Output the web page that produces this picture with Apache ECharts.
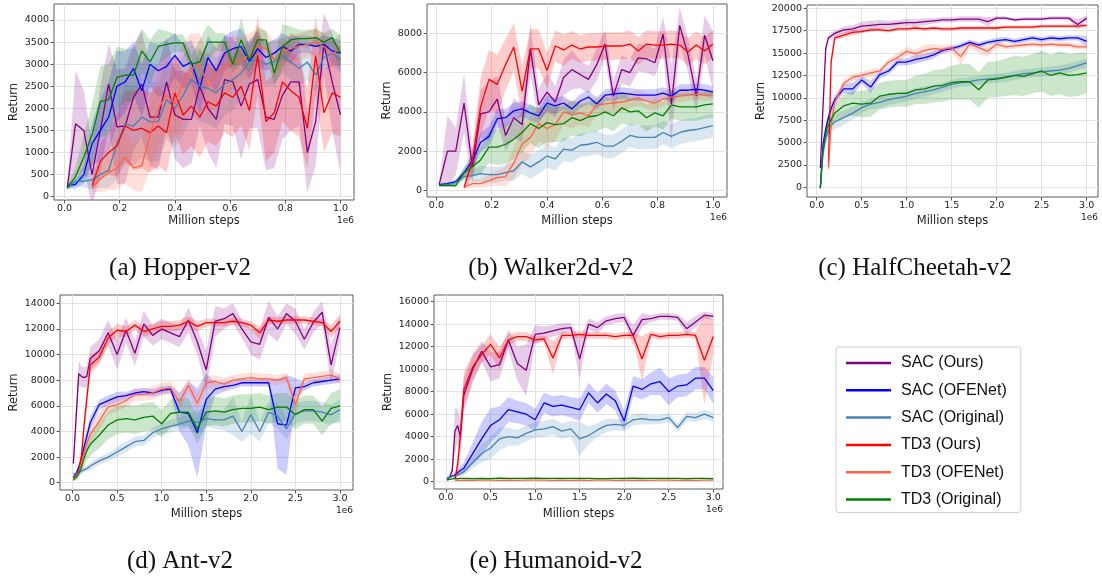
<!DOCTYPE html>
<html><head><meta charset="utf-8">
<script src="https://cdn.jsdelivr.net/npm/echarts@6/dist/echarts.min.js"></script>
<style>html,body{margin:0;padding:0;background:#fff}#c{width:1102px;height:579px}</style>
</head><body><div id="c"></div><script>
// ---------------- data ----------------
const LEGEND = ['SAC (Ours)','SAC (OFENet)','SAC (Original)','TD3 (Ours)','TD3 (OFENet)','TD3 (Original)'];
const COLORS = ['#800080','#0000ff','#4682b4','#ff0000','#ff6347','#008000'];

const X1 = [0.01,0.04,0.07,0.10,0.13,0.16,0.19,0.22,0.25,0.28,0.31,0.34,0.37,0.40,0.43,0.46,0.49,0.52,0.55,0.58,0.61,0.64,0.67,0.70,0.73,0.76,0.79,0.82,0.85,0.88,0.91,0.94,0.97,1.00];
const X3 = [0.01,0.04,0.07,0.10,0.13,0.16,0.2,0.3,0.4,0.5,0.6,0.7,0.8,0.9,1.0,1.1,1.2,1.3,1.4,1.5,1.6,1.7,1.8,1.9,2.0,2.1,2.2,2.3,2.4,2.5,2.6,2.7,2.8,2.9,3.0];

const X1_TICKS = [0,0.2,0.4,0.6,0.8,1.0];
const X3_TICKS = [0,0.5,1.0,1.5,2.0,2.5,3.0];
const HOP_YTICKS = [0,500,1000,1500,2000,2500,3000,3500,4000];
const WAL_YTICKS = [0,2000,4000,6000,8000];
const HC_YTICKS = [0,2500,5000,7500,10000,12500,15000,17500,20000];
const ANT_YTICKS = [0,2000,4000,6000,8000,10000,12000,14000];
const HUM_YTICKS = [0,2000,4000,6000,8000,10000,12000,14000,16000];

const CAPTIONS = ['(a) Hopper-v2','(b) Walker2d-v2','(c) HalfCheetah-v2','(d) Ant-v2','(e) Humanoid-v2'];

// Hopper-v2
const hopSacOurs = [200,1650,1500,500,1500,2550,1580,1600,2250,2550,1800,1800,2600,1850,1750,1750,2500,2000,1750,2650,2600,2050,2550,2650,1800,1750,2300,2600,2600,1000,1700,3450,2600,1850];
const hopSacOfe  = [250,280,500,1200,1500,1800,2500,2600,2900,2400,3000,2850,2950,3200,2950,3050,2450,3150,2850,3250,3350,3400,3050,3350,3150,3250,3400,3300,3450,3450,3400,3450,3300,3250];
const hopSacOrig = [200,350,350,380,500,600,1200,1650,1600,1800,1700,1700,2200,2000,2300,2650,2500,2450,2350,2550,2650,2800,3050,3100,3000,3050,3200,3050,2900,3050,2750,3150,3250,3100];
const hopTd3Ours = [null,null,null,250,800,1000,1150,1600,1500,1550,1450,1600,1450,2350,1850,2050,1800,2150,2050,2350,2250,2500,1950,3200,1700,1900,2600,2400,2250,1550,3200,1900,2350,2250];
const hopTd3Ofe  = [null,null,null,200,400,550,650,900,650,700,1400,2000,2300,2100,2600,2900,3000,2500,2800,2900,3050,3100,3200,3400,3350,3100,3300,3350,3400,3450,3500,3400,3200,3400];
const hopTd3Orig = [200,450,900,1400,2150,2200,2700,2750,2750,3300,3050,3400,3450,3480,3480,3000,3050,3500,3500,3500,3000,3550,3100,3550,3550,2800,3400,3550,3580,3580,3600,3500,3600,3250];
const hopSacOursS = [50,1200,900,700,1000,900,1300,1300,1200,1200,1100,1200,1000,1000,1100,1000,900,1000,1100,1000,1000,1200,1000,1100,1200,1100,1000,1100,1000,900,1000,700,1100,1300];
const hopSacOfeS  = [50,100,200,500,700,800,800,700,600,600,500,600,600,500,500,500,600,500,500,400,400,400,400,400,300,300,300,300,200,200,200,200,300,300];
const hopSacOrigS = [50,100,150,200,300,400,800,900,900,900,900,900,900,900,900,800,800,800,800,700,700,600,500,500,500,500,400,400,400,400,400,300,300,300];
const hopTd3OursS = [0,0,0,100,400,500,700,800,900,900,900,900,900,900,900,900,900,900,900,900,900,900,900,900,900,900,900,900,900,900,900,900,900,900];
const hopTd3OfeS  = [0,0,0,100,300,400,500,600,500,600,800,900,900,900,900,800,700,700,700,600,600,500,500,400,400,400,300,300,300,300,300,300,300,300];
const hopTd3OrigS = [50,200,500,700,800,800,700,600,600,500,500,400,300,200,200,200,500,400,200,200,200,500,300,300,200,300,500,300,200,200,200,200,200,400];

// Walker2d-v2
const walSacOurs = [300,2000,2000,4450,1200,3900,4000,4650,2800,3700,3350,7200,4350,5000,4500,5750,6150,5900,5650,6400,7450,4800,6150,6000,6750,6700,6500,7950,4400,8400,6900,4800,7900,6600];
const walSacOfe  = [300,350,450,900,1500,2450,2750,3650,3700,4050,4150,3950,3800,4450,4300,4450,4150,4550,4750,4400,4850,4900,4950,4900,4850,4850,4850,4950,4800,5100,5100,5150,5100,5000];
const walSacOrig = [250,300,400,700,750,850,800,800,900,1000,1450,1200,1450,1750,1600,2100,2050,2300,2350,2450,2250,2250,2500,2800,2700,2700,2700,2950,2750,2950,3050,3100,3200,3300];
const walTd3Ours = [null,null,null,150,1500,4250,5650,5400,6400,7300,5050,7200,7200,6100,7350,7150,7400,7200,7300,7300,7350,7350,7350,7450,7100,7450,7400,7400,7450,7400,7050,7400,7100,7450];
const walTd3Ofe  = [null,null,null,150,350,350,500,650,700,1400,2350,2700,3400,3150,3350,4000,3850,3950,3800,4350,4400,4450,4500,4600,4700,4550,4450,4650,4750,4800,4850,4900,4850,4850];
const walTd3Orig = [250,250,250,900,1200,1550,2200,2200,2350,2600,2950,3400,3150,3450,3350,3400,3700,3550,3750,3800,4000,3800,4200,4000,4050,3700,3950,3800,4350,4250,4250,4250,4350,4400];
const walSacOursS = [50,1800,1200,1500,800,1200,1500,1200,800,1000,900,1300,800,1000,800,900,1000,700,700,800,700,800,700,700,700,700,700,900,2000,900,900,900,1000,1500];
const walSacOfeS  = [50,50,100,200,400,500,500,500,450,400,400,400,400,400,400,350,350,350,350,300,300,300,300,300,300,300,300,300,300,300,300,300,300,300];
const walSacOrigS = [50,50,100,200,300,400,400,400,400,500,600,600,600,600,600,600,600,600,600,600,600,600,600,600,600,600,600,600,600,600,600,600,600,600];
const walTd3OursS = [0,0,0,100,800,1500,1500,1500,1300,1200,1300,1000,1000,900,800,800,700,700,700,700,700,700,700,700,700,700,700,700,700,700,700,700,700,700];
const walTd3OfeS  = [0,0,0,100,200,200,300,400,500,800,1000,1000,900,900,800,700,700,600,600,500,500,500,500,400,400,400,400,400,300,300,300,300,300,300];
const walTd3OrigS = [50,50,100,300,500,700,800,900,1000,1000,1000,1000,1000,1000,900,900,900,800,800,800,800,800,800,700,700,700,700,700,700,700,700,700,700,700];

// HalfCheetah-v2
const hcSacOurs = [null,2150,9000,15500,16700,16900,17200,17600,17700,18000,18100,18200,18200,18300,18400,18400,18500,18600,18700,18700,18800,18800,18800,18500,18900,18900,18700,18800,18800,18800,18900,18900,18900,18200,18900];
const hcSacOfe  = [null,-100,4800,6500,7800,8800,9800,11000,11000,12000,11200,12600,13000,14000,14000,14300,14500,14800,15300,15500,15800,16200,15900,16200,16400,16500,16300,16500,16700,16500,16700,16600,16700,16700,16300];
const hcSacOrig = [null,-100,3800,5500,6300,6900,7300,7800,8300,8900,9300,9500,9800,10000,10200,10500,10700,10900,11200,11500,11700,11800,12000,12100,12200,12300,12500,12700,12800,12900,13000,13100,13300,13600,13900];
const hcTd3Ours = [null,null,null,null,2500,14000,16700,17000,17300,17400,17600,17600,17500,17700,17700,17800,17700,17800,17700,17700,17800,17800,17800,17800,17800,17900,17900,17900,17900,18000,18000,18000,18000,18000,18100];
const hcTd3Ofe  = [null,null,null,null,2100,7000,9500,11600,12300,12500,12800,13000,14000,14500,15200,14900,15300,15500,15400,15600,14600,16000,15600,15200,16000,15700,15800,15900,16000,15900,16000,15900,15900,15700,15700];
const hcTd3Orig = [null,-100,4200,6000,7000,7600,8300,9100,9400,9300,9400,10200,10400,10500,10500,10900,11000,11300,11400,11700,11800,11800,10900,12000,12100,12300,12500,12400,12700,13000,12500,12800,12500,12600,12800];
const hcSacOursS = [0,300,600,500,300,300,300,400,400,500,500,500,400,400,400,400,400,300,300,300,300,300,300,500,200,200,200,200,200,200,200,200,200,600,300];
const hcSacOfeS  = [0,100,500,500,500,500,500,500,700,400,700,400,400,400,400,500,400,400,300,300,300,300,300,300,300,300,300,300,300,300,300,300,300,300,600];
const hcSacOrigS = [0,100,700,800,800,800,800,800,700,600,600,600,600,600,600,600,600,500,500,500,500,500,500,500,500,500,500,500,500,500,500,500,500,500,500];
const hcTd3OursS = [0,0,0,0,500,600,300,300,300,200,200,200,200,200,200,200,200,200,200,200,200,200,200,200,200,200,200,200,200,200,200,200,200,200,200];
const hcTd3OfeS  = [0,0,0,0,300,500,600,500,400,400,400,400,400,500,500,500,600,500,500,400,900,500,500,600,400,300,300,300,300,300,300,300,300,300,300];
const hcTd3OrigS = [0,100,800,900,1000,1000,1000,1200,1400,1500,1500,1500,1500,1500,1500,1600,1700,1800,1800,1900,2000,2000,2000,2000,2000,2100,2200,2200,2200,2300,2300,2400,2400,2400,2300];

// Ant-v2
const antSacOurs = [1500,5000,8500,8300,8200,8300,9700,10300,11700,10000,11900,10100,12400,11500,12000,11700,11400,12700,11000,8800,12600,12800,13200,12000,11000,10800,12900,12000,13200,12600,11200,12500,13300,9200,12100];
const antSacOfe  = [400,700,1200,1900,2800,3600,4700,6100,6400,6700,6800,7000,7100,7000,7200,7300,5500,5400,3900,6500,7300,7500,7600,7800,7800,7800,7800,4600,4500,7400,7500,7800,7900,8000,8100];
const antSacOrig = [700,700,800,900,1000,1100,1300,1700,2000,2400,2800,3200,3300,3900,4200,4400,4600,4800,4700,5000,4900,4900,5200,4000,5300,4000,5500,5200,4200,5400,5600,5600,5500,5300,5700];
const antTd3Ours = [400,500,900,2000,4500,6500,9200,9800,11300,11900,11800,12300,11800,12000,12200,12200,12300,12600,12200,12500,12500,12500,12600,12500,12300,11700,12700,12600,12700,12700,12700,12600,12500,11800,12600];
const antTd3Ofe  = [300,500,800,1500,2300,3000,3800,4800,5900,6100,6400,6900,6900,7000,7300,7400,6300,7600,6200,7800,7900,7700,8000,8100,8200,8100,8100,8000,8200,6100,8100,8200,8300,8400,8100];
const antTd3Orig = [200,400,700,1200,1900,2500,3000,3700,4500,4900,5000,4900,5100,5200,4600,5400,5500,5500,4200,5500,5600,5500,5700,5800,5800,5900,5700,5900,5900,5300,5700,5700,4800,5800,6000];
const antSacOursS = [100,1000,1000,800,800,800,900,900,1000,1200,1000,1000,1000,800,800,800,800,1000,1000,1500,1200,800,800,700,1000,1200,1300,1000,800,1000,800,800,900,1500,1000];
const antSacOfeS  = [100,200,300,500,600,500,500,400,400,400,300,300,300,300,300,300,1500,2500,3500,2000,500,400,300,300,300,300,300,3500,3900,800,300,300,300,300,300];
const antSacOrigS = [100,100,100,200,200,200,300,300,300,400,400,400,400,400,400,500,500,500,1000,600,700,800,1500,800,1500,800,800,1000,800,800,800,800,800,800,800];
const antTd3OursS = [100,200,400,600,800,800,700,600,500,500,400,400,400,400,400,400,400,400,400,300,300,300,300,300,300,500,300,300,300,300,300,300,300,500,500];
const antTd3OfeS  = [100,200,300,500,600,700,800,700,600,500,500,500,500,500,500,500,700,500,800,500,500,500,400,400,400,400,400,400,400,800,400,400,400,400,400];
const antTd3OrigS = [100,200,300,500,700,800,900,1000,1100,1100,1100,1100,1100,1100,1100,1100,1100,1100,1100,1100,1100,1100,1100,1100,1100,1100,1100,1100,1100,1100,1100,1100,1100,1200,1300];

// Humanoid-v2
const humSacOurs = [200,400,1000,4500,5000,4000,7700,10000,11600,10200,10400,12600,10500,9900,13100,13200,13400,13600,13700,10900,14000,13700,14300,14500,14600,13000,14400,14500,14700,14700,14600,13600,14200,14800,14700];
const humSacOfe  = [300,400,500,600,800,1000,1200,2500,3800,5000,5500,6400,6200,6000,5500,7000,6700,6800,6600,6400,7900,7000,7800,7200,5400,8500,8200,8700,8900,8000,8500,8600,9200,9200,8100];
const humSacOrig = [300,400,500,500,600,700,900,1700,2500,3000,3800,4000,3900,4300,4600,4700,4900,4500,4700,3800,4100,4600,5000,5100,5000,5500,5600,5500,5500,5700,4800,5800,5700,6000,5700];
const humTd3Ours = [null,null,null,200,1500,4000,8200,10200,11300,12200,11000,12600,12900,12900,12600,12700,11000,13000,13000,13100,13000,13000,13000,12900,13000,13000,10900,13100,12900,13000,13000,13100,13000,10800,12900];
const humTd3Ofe  = [null,null,null,120,130,120,130,120,130,140,120,130,120,130,140,130,120,130,120,130,120,140,130,120,130,120,130,120,130,130,120,130,120,130,140];
const humTd3Orig = [150,200,250,300,280,300,300,280,300,280,320,300,290,300,310,300,290,300,300,290,300,280,270,300,300,310,300,290,300,290,300,280,300,290,280];
const humSacOursS = [50,200,500,2000,1500,1500,1500,1200,900,1300,1200,900,1500,2300,800,600,500,500,400,1800,500,500,400,400,400,900,600,300,300,300,300,600,500,300,300];
const humSacOfeS  = [50,100,100,200,300,400,500,1000,1500,1500,1200,1100,1000,1000,1000,900,900,900,900,1000,900,900,900,900,900,900,900,1000,1200,1200,1000,1000,1000,1000,1200];
const humSacOrigS = [50,100,100,100,150,200,300,500,800,1000,1000,800,700,700,700,700,700,700,700,1500,800,600,600,500,500,500,500,400,400,400,400,400,400,400,400];
const humTd3OursS = [0,0,0,100,1000,1500,1500,1200,800,900,1000,500,400,400,300,300,1500,300,300,300,300,300,300,300,300,300,2000,300,300,300,300,300,300,4000,1500];
const humTd3OfeS  = [0,0,0,60,60,60,60,60,60,60,60,60,60,60,60,60,60,60,60,60,60,60,60,60,60,60,60,60,60,60,60,60,60,60,60];
const humTd3OrigS = [20,30,40,60,60,60,60,60,60,60,60,60,60,60,60,60,60,60,60,60,60,60,60,60,60,60,60,60,60,60,60,60,60,60,60];

// ---------------- layout (positions only) ----------------
const PANELS = [
  {x:X1, means:[hopSacOurs,hopSacOfe,hopSacOrig,hopTd3Ours,hopTd3Ofe,hopTd3Orig],
   spreads:[hopSacOursS,hopSacOfeS,hopSacOrigS,hopTd3OursS,hopTd3OfeS,hopTd3OrigS],
   xTicks:X1_TICKS, yTicks:HOP_YTICKS, xDec:1,
   box:{l:54,t:4,w:300,h:196}, xr:[-0.038,1.049], yr:[-75,4362], gx:15.5, gy:34, cap:[180,268]},
  {x:X1, means:[walSacOurs,walSacOfe,walSacOrig,walTd3Ours,walTd3Ofe,walTd3Orig],
   spreads:[walSacOursS,walSacOfeS,walSacOrigS,walTd3OursS,walTd3OfeS,walTd3OrigS],
   xTicks:X1_TICKS, yTicks:WAL_YTICKS, xDec:1,
   box:{l:427,t:4,w:300,h:193}, xr:[-0.034,1.051], yr:[-335,9489], gx:18, gy:34, cap:[551,268]},
  {x:X3, means:[hcSacOurs,hcSacOfe,hcSacOrig,hcTd3Ours,hcTd3Ofe,hcTd3Orig],
   spreads:[hcSacOursS,hcSacOfeS,hcSacOrigS,hcTd3OursS,hcTd3OfeS,hcTd3OrigS],
   xTicks:X3_TICKS, yTicks:HC_YTICKS, xDec:1,
   box:{l:807,t:5,w:291,h:192}, xr:[-0.108,3.126], yr:[-1070,20367], gx:18, gy:40, cap:[915,268]},
  {x:X3, means:[antSacOurs,antSacOfe,antSacOrig,antTd3Ours,antTd3Ofe,antTd3Orig],
   spreads:[antSacOursS,antSacOfeS,antSacOrigS,antTd3OursS,antTd3OfeS,antTd3OrigS],
   xTicks:X3_TICKS, yTicks:ANT_YTICKS, xDec:1,
   box:{l:60,t:295,w:293,h:195}, xr:[-0.14,3.146], yr:[-570,14650], gx:18, gy:40, cap:[180,561]},
  {x:X3, means:[humSacOurs,humSacOfe,humSacOrig,humTd3Ours,humTd3Ofe,humTd3Orig],
   spreads:[humSacOursS,humSacOfeS,humSacOrigS,humTd3OursS,humTd3OfeS,humTd3OrigS],
   xTicks:X3_TICKS, yTicks:HUM_YTICKS, xDec:1,
   box:{l:434,t:295,w:289,h:194}, xr:[-0.135,3.109], yr:[-650,16593], gx:19, gy:40, cap:[556,561]}
];

const TICK_FONT = 'DejaVu Sans';
const grids=[], xAxes=[], yAxes=[], series=[], graphics=[];

PANELS.forEach((p, gi) => {
  grids.push({left:p.box.l, top:p.box.t, width:p.box.w, height:p.box.h, show:true,
    borderColor:'#333', borderWidth:0.8, backgroundColor:'rgba(0,0,0,0)', containLabel:false});
  xAxes.push({gridIndex:gi, type:'value', min:p.xr[0], max:p.xr[1],
    axisLine:{show:false, onZero:false},
    axisTick:{show:true, length:3.5, inside:false, customValues:p.xTicks, lineStyle:{color:'#333', width:0.8}},
    axisLabel:{customValues:p.xTicks, formatter:v=>Number(v).toFixed(p.xDec), fontSize:9.5, fontFamily:TICK_FONT, color:'#222', margin:4},
    splitLine:{show:true, lineStyle:{color:'#e2e2e2', width:1}},
    name:'Million steps', nameLocation:'middle', nameGap:p.gx,
    nameTextStyle:{fontSize:11.5, fontFamily:TICK_FONT, color:'#222'}});
  yAxes.push({gridIndex:gi, type:'value', min:p.yr[0], max:p.yr[1],
    axisLine:{show:false, onZero:false},
    axisTick:{show:true, length:3.5, inside:false, customValues:p.yTicks, lineStyle:{color:'#333', width:0.8}},
    axisLabel:{customValues:p.yTicks, formatter:v=>String(Math.round(v)), fontSize:9.5, fontFamily:TICK_FONT, color:'#222', margin:5},
    splitLine:{show:true, lineStyle:{color:'#e2e2e2', width:1}},
    name:'Return', nameLocation:'middle', nameGap:p.gy, nameRotate:90,
    nameTextStyle:{fontSize:11.5, fontFamily:TICK_FONT, color:'#222'}});

  p.means.forEach((m, si) => {
    const spr = p.spreads[si];
    const pts = [];
    m.forEach((v, i) => { if (v != null) pts.push([p.x[i], v - (spr[i]||0), v + (spr[i]||0)]); });
    const col = COLORS[si];
    series.push({type:'custom', xAxisIndex:gi, yAxisIndex:gi, silent:true, clip:true, z:2,
      data:[[p.x[0], 0]], encode:{x:0, y:1},
      renderItem:(params, api) => {
        const up = pts.map(q => api.coord([q[0], q[2]]));
        const lo = pts.map(q => api.coord([q[0], q[1]])).reverse();
        return {type:'polygon', shape:{points:up.concat(lo)}, style:{fill:col, opacity:0.2}};
      }});
  });
  p.means.forEach((m, si) => {
    const data = [];
    m.forEach((v, i) => { if (v != null) data.push([p.x[i], v]); });
    series.push({type:'line', name:LEGEND[si], xAxisIndex:gi, yAxisIndex:gi, data,
      showSymbol:false, symbol:'none', color:COLORS[si], clip:true, z:3,
      lineStyle:{width:1.3, color:COLORS[si]}});
  });

  graphics.push({type:'text', left:null, x:p.box.l + p.box.w, y:p.box.t + p.box.h + 21,
    style:{text:'1e6', font:'9px "DejaVu Sans"', fill:'#222', textAlign:'right', textVerticalAlign:'middle'}});
  graphics.push({type:'text', x:p.cap[0], y:p.cap[1],
    style:{text:CAPTIONS[gi], font:'25px "Liberation Serif"', fill:'#111', textAlign:'center', textVerticalAlign:'middle'}});
});

const chart = echarts.init(document.getElementById('c'), null, {renderer:'canvas'});
chart.setOption({
  animation:false,
  backgroundColor:'#ffffff',
  grid:grids, xAxis:xAxes, yAxis:yAxes, series,
  legend:{data:LEGEND, orient:'vertical', left:836, top:347, icon:'rect', itemWidth:45, itemHeight:2.5,
    itemGap:9.3, padding:[7,14,4,10], borderColor:'#cfcfcf', borderWidth:1, borderRadius:3,
    selectedMode:false,
    textStyle:{fontFamily:'Liberation Sans', fontSize:16, color:'#111', lineHeight:18, padding:[0,0,0,5]}},
  graphic:{elements:graphics}
});
</script></body></html>
